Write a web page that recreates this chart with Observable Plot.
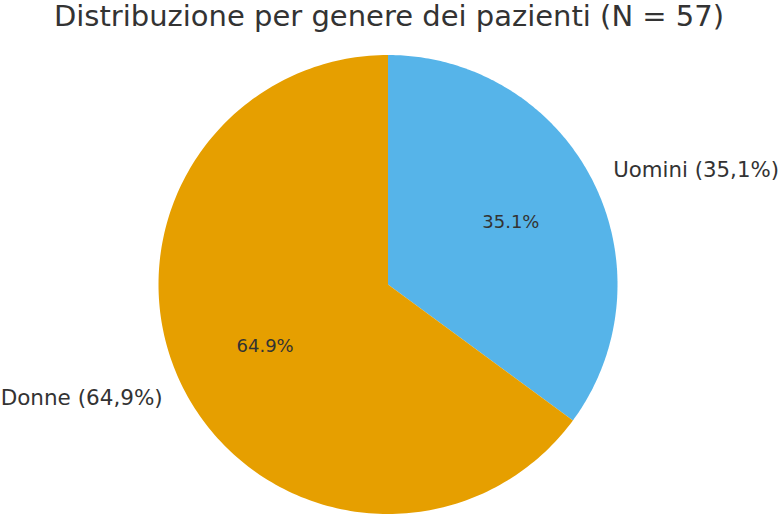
<!DOCTYPE html>
<html><head><meta charset="utf-8">
<script src="https://cdn.jsdelivr.net/npm/d3@7"></script>
<script src="https://cdn.jsdelivr.net/npm/@observablehq/plot@0.6"></script>
<style>body{margin:0;background:#fff;font-family:"DejaVu Sans",sans-serif}</style>
</head><body><div id="chart"></div>
<script>
const title = "Distribuzione per genere dei pazienti (N = 57)";
const categories = ["Uomini", "Donne"];
const counts = [20, 37];
const outerLabels = ["Uomini (35,1%)", "Donne (64,9%)"];
const innerLabels = ["35.1%", "64.9%"];
const colors = ["#56B4E9", "#E69F00"];

const W = 781, H = 514, cx = 387.5, cy = 284, R = 229.5;
// angles measured clockwise from 12 o'clock
const pie = d3.pie().sort(null).value(d => d)(counts);
const slices = [], inner = [], outer = [];
pie.forEach((p, i) => {
  const pts = [{x: 0, y: 0, k: categories[i]}];
  const n = 200;
  for (let j = 0; j <= n; j++) {
    const a = p.startAngle + (p.endAngle - p.startAngle) * j / n;
    pts.push({x: Math.sin(a), y: Math.cos(a), k: categories[i]});
  }
  slices.push(...pts);
  const m = (p.startAngle + p.endAngle) / 2;
  inner.push({x: 0.6 * Math.sin(m), y: 0.6 * Math.cos(m), t: innerLabels[i]});
  outer.push({x: 1.1 * Math.sin(m), y: 1.1 * Math.cos(m), t: outerLabels[i], anchor: Math.sin(m) >= 0 ? "start" : "end"});
});

const plot = Plot.plot({
  width: W, height: H, margin: 0,
  x: {domain: [-cx / R, (W - cx) / R], range: [0, W], axis: null},
  y: {domain: [-(H - cy) / R, cy / R], range: [H, 0], axis: null},
  color: {domain: categories, range: colors},
  style: {fontFamily: "DejaVu Sans, sans-serif", background: "#fff"},
  marks: [
    Plot.line(slices, {x: "x", y: "y", z: "k", fill: "k", stroke: null, curve: "linear"}),
    Plot.text(inner, {x: "x", y: "y", text: "t", fontSize: 18, fill: "#333"}),
    Plot.text(outer.filter(d => d.anchor === "start"), {x: "x", y: "y", text: "t", fontSize: 21.3, fill: "#333", textAnchor: "start"}),
    Plot.text(outer.filter(d => d.anchor === "end"), {x: "x", y: "y", text: "t", fontSize: 21.5, fill: "#333", textAnchor: "end"}),
    Plot.text([title], {frameAnchor: "top", dx: -2, dy: 16, lineAnchor: "middle", text: d => d, fontSize: 29, fill: "#333"})
  ]
});
document.getElementById("chart").appendChild(plot);
</script></body></html>
